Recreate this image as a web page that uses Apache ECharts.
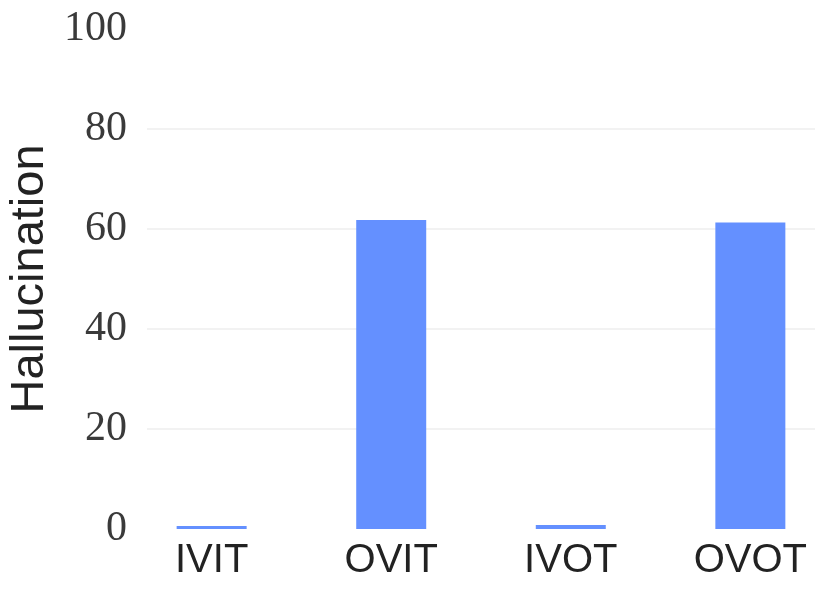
<!DOCTYPE html>
<html>
<head>
<meta charset="utf-8">
<script src="https://cdn.jsdelivr.net/npm/echarts@6/dist/echarts.min.js"></script>
<style>
html, body { margin: 0; padding: 0; background: #fff; }
#chart { width: 831px; height: 600px; }
</style>
</head>
<body>
<div id="chart"></div>
<script>
// data
let categories = ['IVIT', 'OVIT', 'IVOT', 'OVOT'];
let hallucination = [0.6, 61.8, 0.8, 61.3];
let yTicks = [0, 20, 40, 60, 80, 100];

let myc = echarts.init(document.getElementById('chart'));

let barData = categories.map((c, i) => [i, hallucination[i]]);

let options = {
    animation: false,
    grid: {
        left: 147,
        right: 16,
        top: 29,
        bottom: 71,
        outerBoundsMode: 'none'
    },
    xAxis: {
        type: 'value',
        min: -0.36,
        max: 3.36,
        axisLine: { show: false },
        axisTick: { show: false },
        splitLine: { show: false },
        axisLabel: {
            customValues: [0, 1, 2, 3],
            formatter: (v) => categories[Math.round(v)],
            fontFamily: 'Liberation Sans',
            fontSize: 40,
            color: '#222',
            margin: 12
        }
    },
    yAxis: {
        type: 'value',
        min: 0,
        max: 100,
        interval: 20,
        name: 'Hallucination',
        nameLocation: 'middle',
        nameGap: 84,
        nameTextStyle: {
            fontFamily: 'Liberation Sans',
            fontSize: 47,
            color: '#222'
        },
        axisLine: { show: false },
        axisTick: { show: false },
        axisLabel: {
            customValues: yTicks,
            fontFamily: 'Liberation Serif',
            fontSize: 42,
            color: '#3a3a3a',
            margin: 20
        },
        splitLine: {
            show: true,
            showMinLine: false,
            showMaxLine: false,
            lineStyle: { color: '#f2f2f2', width: 2 }
        }
    },
    series: [
        {
            type: 'bar',
            barWidth: 70,
            itemStyle: { color: '#6490ff' },
            data: barData
        }
    ]
};
myc.setOption(options);
</script>
</body>
</html>
